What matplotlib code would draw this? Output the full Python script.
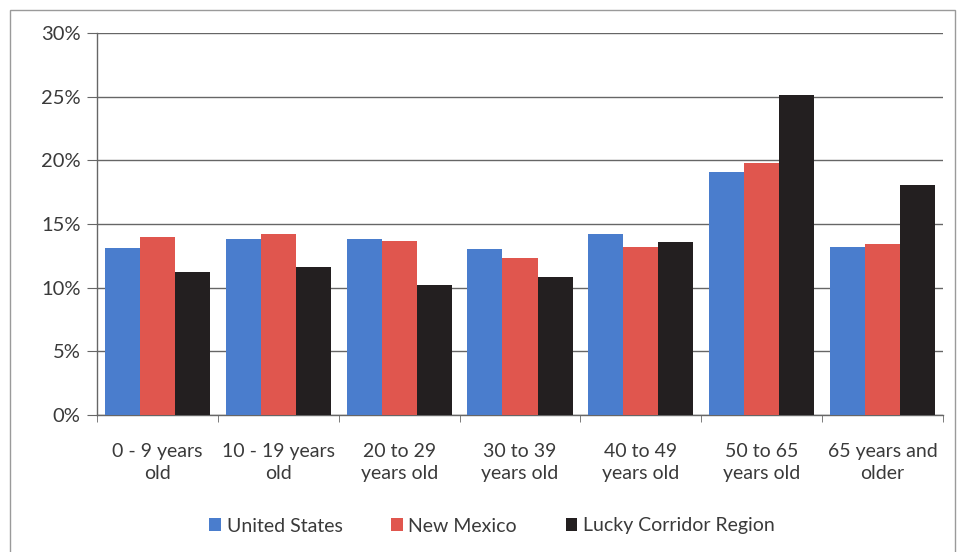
import matplotlib
matplotlib.use("Agg")
import matplotlib.pyplot as plt
from matplotlib.patches import Rectangle, Patch
from matplotlib.ticker import FixedLocator, PercentFormatter
import numpy as np

plt.rcParams['font.family'] = ['Lato', 'DejaVu Sans']

categories = ["0 - 9 years\nold", "10 - 19 years\nold", "20 to 29\nyears old",
              "30 to 39\nyears old", "40 to 49\nyears old", "50 to 65\nyears old",
              "65 years and\nolder"]
united_states = [13.1, 13.8, 13.8, 13.0, 14.2, 19.1, 13.2]
new_mexico = [14.0, 14.2, 13.7, 12.3, 13.2, 19.8, 13.4]
lucky_corridor = [11.2, 11.6, 10.2, 10.8, 13.6, 25.1, 18.1]
series_names = ["United States", "New Mexico", "Lucky Corridor Region"]
colors = ["#4A7DCD", "#E0564E", "#231F20"]
text_color = "#3A3A3A"

fig = plt.figure(figsize=(9.58, 5.52), dpi=100)
ax = fig.add_axes([0.1013, 0.2482, 0.8830, 0.6920])

# outer chart frame
fig.patches.append(Rectangle((10 / 958, -0.01), 945 / 958, 1 - 10 / 552 + 0.01,
                             transform=fig.transFigure, fill=False,
                             edgecolor="#9A9A9A", linewidth=1.0))

x = np.arange(len(categories))
w = 0.29
for i, (vals, c) in enumerate(zip([united_states, new_mexico, lucky_corridor], colors)):
    ax.bar(x + (i - 1) * w, vals, width=w, color=c, zorder=3)

ax.set_xlim(-0.5, len(categories) - 0.5)
ax.set_ylim(0, 30)
ax.yaxis.set_major_locator(FixedLocator(np.arange(0, 31, 5)))
ax.yaxis.set_major_formatter(PercentFormatter(decimals=0))
ax.grid(axis="y", color="#666666", linewidth=1.0, zorder=0)

ax.set_xticks(x)
ax.set_xticklabels(categories, fontsize=14, color=text_color, linespacing=1.4)
ax.set_xticks(np.arange(-0.5, len(categories), 1.0), minor=True)
ax.tick_params(axis="x", which="major", length=0, pad=20)
ax.tick_params(axis="x", which="minor", length=5, color="#666666", direction="out")
ax.tick_params(axis="y", length=7, color="#666666", labelsize=14.5, labelcolor=text_color, pad=5)

for s in ["top", "right"]:
    ax.spines[s].set_visible(False)
for s in ["left", "bottom"]:
    ax.spines[s].set_color("#666666")
    ax.spines[s].set_linewidth(1.0)

handles = [Patch(facecolor=c, label=n) for c, n in zip(colors, series_names)]
fig.legend(handles=handles, loc="center", bbox_to_anchor=(492 / 958, 1 - 526 / 552),
           ncol=3, frameon=False, fontsize=14, handlelength=0.6, handleheight=0.6,
           handletextpad=0.3, columnspacing=2.5, labelcolor=text_color)

fig.savefig("out.png", dpi=100)
